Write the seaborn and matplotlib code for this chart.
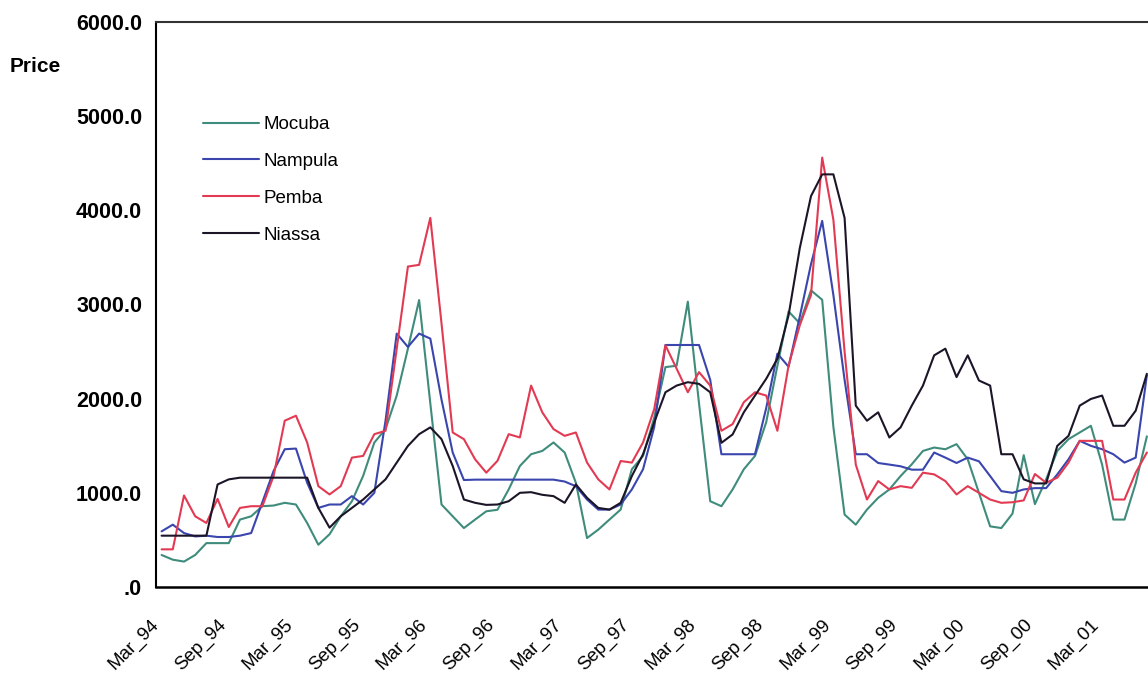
import matplotlib
matplotlib.use("Agg")
import matplotlib.pyplot as plt
from matplotlib.lines import Line2D
from matplotlib.transforms import ScaledTranslation
import seaborn as sns
import pandas as pd
import numpy as np

# ---------------- data (monthly, Mar 1994 .. Jul 2001) ----------------
tick_labels = ["Mar_94", "Sep_94", "Mar_95", "Sep_95", "Mar_96", "Sep_96", "Mar_97",
               "Sep_97", "Mar_98", "Sep_98", "Mar_99", "Sep_99", "Mar_00", "Sep_00", "Mar_01"]

mocuba = [340, 290, 270, 340, 466, 466, 466, 716, 751, 858, 865, 894, 876, 680, 449,
          560, 750, 911, 1180, 1534, 1677, 2033, 2531, 3047, 1950, 876, 751, 626, 716, 804,
          820, 1036, 1285, 1410, 1445, 1535, 1428, 1107, 520, 609, 716, 822, 1250, 1392, 1800,
          2335, 2350, 3030, 1950, 911, 858, 1036, 1250, 1392, 1750, 2350, 2926, 2800, 3150, 3050,
          1700, 769, 662, 822, 947, 1036, 1178, 1303, 1445, 1481, 1463, 1517, 1356, 1000, 644,
          626, 780, 1400, 880, 1143, 1445, 1570, 1641, 1712, 1300, 716, 716, 1100, 1600]

nampula = [591, 662, 573, 537, 545, 531, 531, 545, 573, 900, 1232, 1463, 1470, 1107, 840,
           876, 876, 965, 876, 1000, 1766, 2691, 2549, 2691, 2638, 1990, 1428, 1136, 1140, 1140,
           1140, 1140, 1140, 1140, 1140, 1140, 1120, 1070, 929, 822, 822, 876, 1036, 1250, 1700,
           2570, 2570, 2570, 2570, 2200, 1410, 1410, 1410, 1410, 1900, 2478, 2339, 2873, 3428, 3888,
           3100, 2200, 1410, 1410, 1317, 1300, 1282, 1246, 1246, 1428, 1374, 1317, 1374, 1335, 1178,
           1018, 1000, 1036, 1050, 1050, 1196, 1356, 1552, 1499, 1463, 1410, 1321, 1374, 2250]

pemba = [400, 400, 972, 751, 680, 936, 637, 840, 858, 858, 1178, 1766, 1819, 1535, 1071,
         983, 1071, 1374, 1392, 1623, 1659, 2531, 3403, 3421, 3920, 2800, 1641, 1570, 1356, 1214,
         1340, 1623, 1588, 2139, 1855, 1677, 1605, 1641, 1321, 1143, 1036, 1338, 1321, 1535, 1890,
         2567, 2318, 2068, 2282, 2139, 1659, 1730, 1962, 2068, 2033, 1659, 2353, 2780, 3100, 4560,
         3900, 2500, 1300, 929, 1125, 1036, 1071, 1053, 1214, 1196, 1125, 983, 1071, 1000, 929,
         894, 900, 920, 1200, 1107, 1161, 1321, 1552, 1552, 1552, 929, 929, 1214, 1428]

niassa = [545, 545, 545, 545, 545, 1089, 1143, 1161, 1161, 1161, 1161, 1161, 1161, 1161, 840,
          630, 751, 840, 929, 1036, 1143, 1321, 1498, 1623, 1695, 1570, 1285, 929, 894, 872,
          876, 911, 1000, 1007, 979, 965, 894, 1089, 947, 840, 822, 894, 1178, 1410, 1748,
          2068, 2139, 2175, 2157, 2068, 1531, 1620, 1855, 2033, 2211, 2424, 2887, 3599, 4151, 4382,
          4382, 3920, 1926, 1766, 1855, 1588, 1695, 1926, 2139, 2460, 2531, 2229, 2460, 2193, 2139,
          1410, 1410, 1143, 1100, 1100, 1499, 1605, 1926, 1997, 2033, 1712, 1712, 1872, 2264]

series_names = ["Mocuba", "Nampula", "Pemba", "Niassa"]
series_values = [mocuba, nampula, pemba, niassa]
colors = {"Mocuba": "#3f8c7c", "Nampula": "#3a45ad", "Pemba": "#e23a52", "Niassa": "#1c1528"}

y_ticks = [0, 1000, 2000, 3000, 4000, 5000, 6000]
y_tick_labels = [".0", "1000.0", "2000.0", "3000.0", "4000.0", "5000.0", "6000.0"]

# ---------------- long-form table ----------------
rows = []
for name, vals in zip(series_names, series_values):
    for i, v in enumerate(vals):
        rows.append({"month": i, "Price": v, "Market": name})
df = pd.DataFrame(rows)

sns.set_style("white")
plt.rcParams["font.family"] = ["Liberation Sans", "DejaVu Sans"]
plt.rcParams["text.color"] = "black"

W, H = 1148, 679
fig = plt.figure(figsize=(W / 100, H / 100), dpi=100)
left, right, top, bottom = 156, 1148, 22, 587
ax = fig.add_axes([left / W, 1 - bottom / H, (right - left) / W, (bottom - top) / H])

sns.lineplot(data=df, x="month", y="Price", hue="Market", hue_order=series_names,
             palette=colors, linewidth=1.5, ax=ax, legend=False, estimator=None)

n = len(mocuba)
ax.set_xlim(-0.5, n - 1 + 0.1)
ax.set_ylim(0, 6000)

# y axis
ax.set_yticks(y_ticks)
ax.set_yticklabels(y_tick_labels, fontsize=15.5, fontweight="bold")
ax.tick_params(axis="y", direction="out", length=6, width=1.3, pad=4, colors="black")

# x axis: ticks at category boundaries every 6 months
tick_pos = [6 * k - 0.5 for k in range(len(tick_labels))]
ax.set_xticks(tick_pos)
ax.set_xticklabels(tick_labels, fontsize=13.5, rotation=45, ha="right", va="top",
                   rotation_mode="anchor")
ax.tick_params(axis="x", direction="out", length=5, width=1.2, pad=16, colors="black")
off = ScaledTranslation(-6 / 100, 0, fig.dpi_scale_trans)
for lab in ax.get_xticklabels():
    lab.set_transform(lab.get_transform() + off)

ax.set_xlabel("")
ax.set_ylabel("")

ax.spines["right"].set_visible(False)
ax.spines["left"].set_color("black")
ax.spines["left"].set_linewidth(1.5)
ax.spines["bottom"].set_color("black")
ax.spines["bottom"].set_linewidth(1.8)
ax.spines["top"].set_color("#333333")
ax.spines["top"].set_linewidth(1.5)

fig.text(10 / W, 1 - 67 / H, "Price", fontsize=15, fontweight="bold",
         ha="left", va="center", color="black")

handles = [Line2D([0], [0], color=colors[nm], lw=1.5) for nm in series_names]
leg = ax.legend(handles, series_names, loc="upper left",
                bbox_to_anchor=(203 / W, 1 - 116 / H), bbox_transform=fig.transFigure,
                frameon=False, fontsize=13.5, handlelength=3.0, handletextpad=0.25,
                labelspacing=1.05, borderpad=0, borderaxespad=0)
for t in leg.get_texts():
    t.set_color("black")

fig.savefig("out.png", dpi=100)
